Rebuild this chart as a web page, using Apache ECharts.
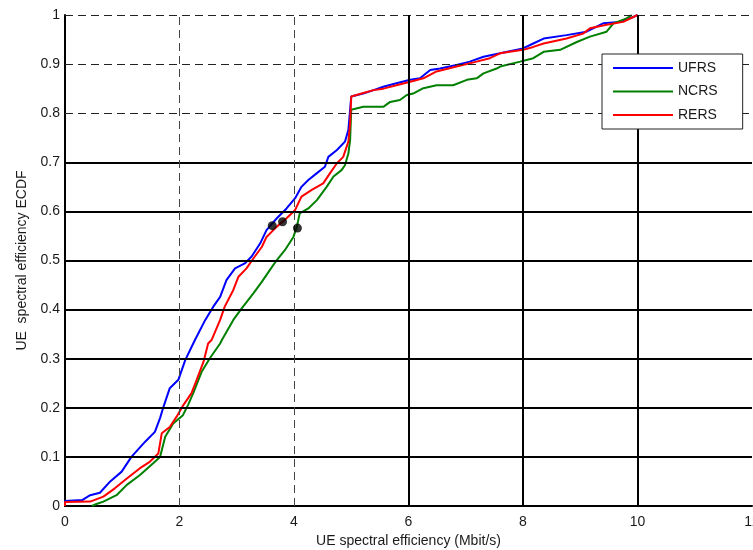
<!DOCTYPE html>
<html><head><meta charset="utf-8">
<script src="https://cdn.jsdelivr.net/npm/echarts@6/dist/echarts.min.js"></script>
<style>html,body{margin:0;padding:0;background:#fff}#c{width:753px;height:550px}</style>
</head><body><div id="c"></div>
<script>
// ---- data ----
const seriesNames = ['UFRS', 'NCRS', 'RERS'];
const ufrs = [[0,0],[0,0.01],[0.3,0.012],[0.44,0.022],[0.61,0.027],[0.79,0.05],[0.99,0.07],[1.16,0.10],[1.40,0.131],[1.57,0.151],[1.66,0.179],[1.72,0.202],[1.83,0.24],[1.98,0.257],[2.10,0.297],[2.24,0.331],[2.27,0.338],[2.45,0.379],[2.59,0.406],[2.71,0.426],[2.82,0.46],[2.97,0.484],[3.14,0.494],[3.26,0.508],[3.41,0.535],[3.52,0.562],[3.70,0.586],[3.87,0.606],[4.02,0.627],[4.13,0.65],[4.25,0.664],[4.40,0.678],[4.54,0.691],[4.60,0.711],[4.75,0.725],[4.89,0.742],[4.95,0.766],[4.98,0.807],[5.0,0.834],[5.21,0.84],[5.39,0.847],[5.56,0.854],[5.79,0.861],[6.03,0.868],[6.2,0.871],[6.38,0.888],[6.55,0.891],[6.84,0.898],[7.07,0.905],[7.31,0.915],[7.6,0.922],[8.0,0.932],[8.18,0.942],[8.36,0.952],[8.76,0.959],[9.11,0.966],[9.40,0.983],[9.69,0.986],[9.93,0.996],[10.0,1.0]];
const ncrs = [[0.47,0],[0.55,0.004],[0.67,0.009],[0.90,0.022],[1.08,0.043],[1.31,0.063],[1.54,0.087],[1.66,0.10],[1.75,0.141],[1.89,0.168],[2.06,0.185],[2.15,0.206],[2.24,0.23],[2.39,0.274],[2.53,0.301],[2.71,0.331],[2.74,0.338],[2.94,0.379],[3.09,0.403],[3.29,0.433],[3.44,0.457],[3.58,0.481],[3.70,0.501],[3.84,0.521],[3.99,0.548],[4.05,0.569],[4.10,0.596],[4.25,0.606],[4.40,0.623],[4.57,0.65],[4.69,0.671],[4.83,0.684],[4.89,0.694],[4.95,0.718],[4.98,0.745],[5.0,0.807],[5.21,0.813],[5.56,0.813],[5.68,0.823],[5.85,0.827],[5.97,0.837],[6.08,0.84],[6.26,0.851],[6.49,0.857],[6.78,0.857],[7.02,0.868],[7.19,0.871],[7.31,0.881],[7.54,0.891],[7.6,0.895],[7.95,0.905],[8.18,0.912],[8.36,0.925],[8.65,0.929],[8.94,0.945],[9.17,0.956],[9.46,0.966],[9.58,0.983],[9.81,0.993],[9.90,1.0]];
const rers = [[0,0],[0,0.008],[0.44,0.009],[0.67,0.019],[0.87,0.036],[1.08,0.056],[1.31,0.077],[1.48,0.09],[1.63,0.107],[1.69,0.148],[1.83,0.161],[1.95,0.182],[2.07,0.206],[2.21,0.23],[2.30,0.257],[2.42,0.294],[2.50,0.331],[2.56,0.338],[2.71,0.379],[2.79,0.406],[2.94,0.44],[3.03,0.467],[3.17,0.484],[3.29,0.504],[3.44,0.528],[3.52,0.548],[3.70,0.569],[3.87,0.586],[4.02,0.603],[4.13,0.63],[4.31,0.644],[4.51,0.657],[4.63,0.678],[4.75,0.698],[4.86,0.711],[4.95,0.742],[4.98,0.779],[5.0,0.834],[5.18,0.84],[5.39,0.847],[5.56,0.85],[5.79,0.857],[6.03,0.864],[6.26,0.871],[6.49,0.885],[6.84,0.895],[7.19,0.905],[7.42,0.912],[7.6,0.922],[8.0,0.929],[8.18,0.935],[8.36,0.942],[8.76,0.952],[9.05,0.962],[9.17,0.973],[9.46,0.98],[9.75,0.986],[10.0,1.0]];
const markers = [[3.62,0.571],[3.80,0.579],[4.06,0.566]];
const yGridSolid = [0.1,0.2,0.3,0.4,0.5,0.6,0.7];
const yGridDashed = [0.8,0.9,1.0];
const xGridDashed = [2,4];
const xGridSolid = [6,8,10];
const colors = ['#0000ff', '#008000', '#ff0000'];

// ---- chart ----
const chart = echarts.init(document.getElementById('c'), null, {renderer: 'canvas'});
const font = 'Liberation Sans, Arial, sans-serif';
const solidStyle = {color: '#000', width: 2, type: 'solid'};
const dashStyle = {color: '#222', width: 1, type: [8, 5]};
const gridLines = []
  .concat(yGridSolid.map(v => ({yAxis: v, lineStyle: solidStyle})))
  .concat(yGridDashed.map(v => ({yAxis: v, lineStyle: dashStyle})))
  .concat(xGridDashed.map(v => ({xAxis: v, lineStyle: Object.assign({}, dashStyle, {color: '#444'})})))
  .concat(xGridSolid.map(v => ({xAxis: v, lineStyle: solidStyle})));

const curveData = [ufrs, ncrs, rers];
const series = [{
  name: 'grid', type: 'line', data: [], z: 1, silent: true,
  markLine: {silent: true, symbol: ['none', 'none'], label: {show: false}, animation: false, data: gridLines}
}];
seriesNames.forEach((n, i) => series.push({
  name: n, type: 'line', data: curveData[i], symbol: 'none', z: 3,
  lineStyle: {color: colors[i], width: 2}, itemStyle: {color: colors[i]}
}));
series.push({name: 'pts', type: 'scatter', data: markers, symbolSize: 9, z: 5, itemStyle: {color: '#000'}});

chart.setOption({
  animation: false,
  backgroundColor: '#fff',
  grid: {left: 65, right: 1, top: 15, bottom: 44, containLabel: false, outerBoundsMode: 'none'},
  xAxis: {
    type: 'value', min: 0, max: 12, interval: 2,
    name: 'UE spectral efficiency (Mbit/s)', nameLocation: 'middle', nameGap: 27,
    nameTextStyle: {fontFamily: font, fontSize: 14, color: '#1a1a1a'},
    axisLine: {show: true, onZero: false, lineStyle: {color: '#000', width: 2}},
    axisTick: {show: false},
    axisLabel: {fontFamily: font, fontSize: 14, color: '#1a1a1a', margin: 9, showMaxLabel: true, hideOverlap: false},
    splitLine: {show: false}
  },
  yAxis: {
    type: 'value', min: 0, max: 1, interval: 0.1,
    name: 'UE  spectral efficiency ECDF', nameLocation: 'middle', nameGap: 35, nameRotate: 90,
    nameTextStyle: {fontFamily: font, fontSize: 14, color: '#1a1a1a'},
    axisLine: {show: true, lineStyle: {color: '#000', width: 2}},
    axisTick: {show: false},
    axisLabel: {fontFamily: font, fontSize: 14, color: '#1a1a1a', margin: 5,
      formatter: v => String(Math.round(v * 10) / 10)},
    splitLine: {show: false}
  },
  legend: {
    data: seriesNames.map((n, i) => ({name: n, icon: 'rect', itemStyle: {color: colors[i]}})),
    orient: 'vertical', left: 602, top: 54, z: 20, zlevel: 0,
    padding: [6, 25, 6, 11], itemGap: 7.5, itemWidth: 60, itemHeight: 2,
    backgroundColor: '#ffffff', borderColor: '#222', borderWidth: 1,
    textStyle: {fontFamily: font, fontSize: 14, color: '#1a1a1a', lineHeight: 16}
  },
  series: series
});
</script></body></html>
